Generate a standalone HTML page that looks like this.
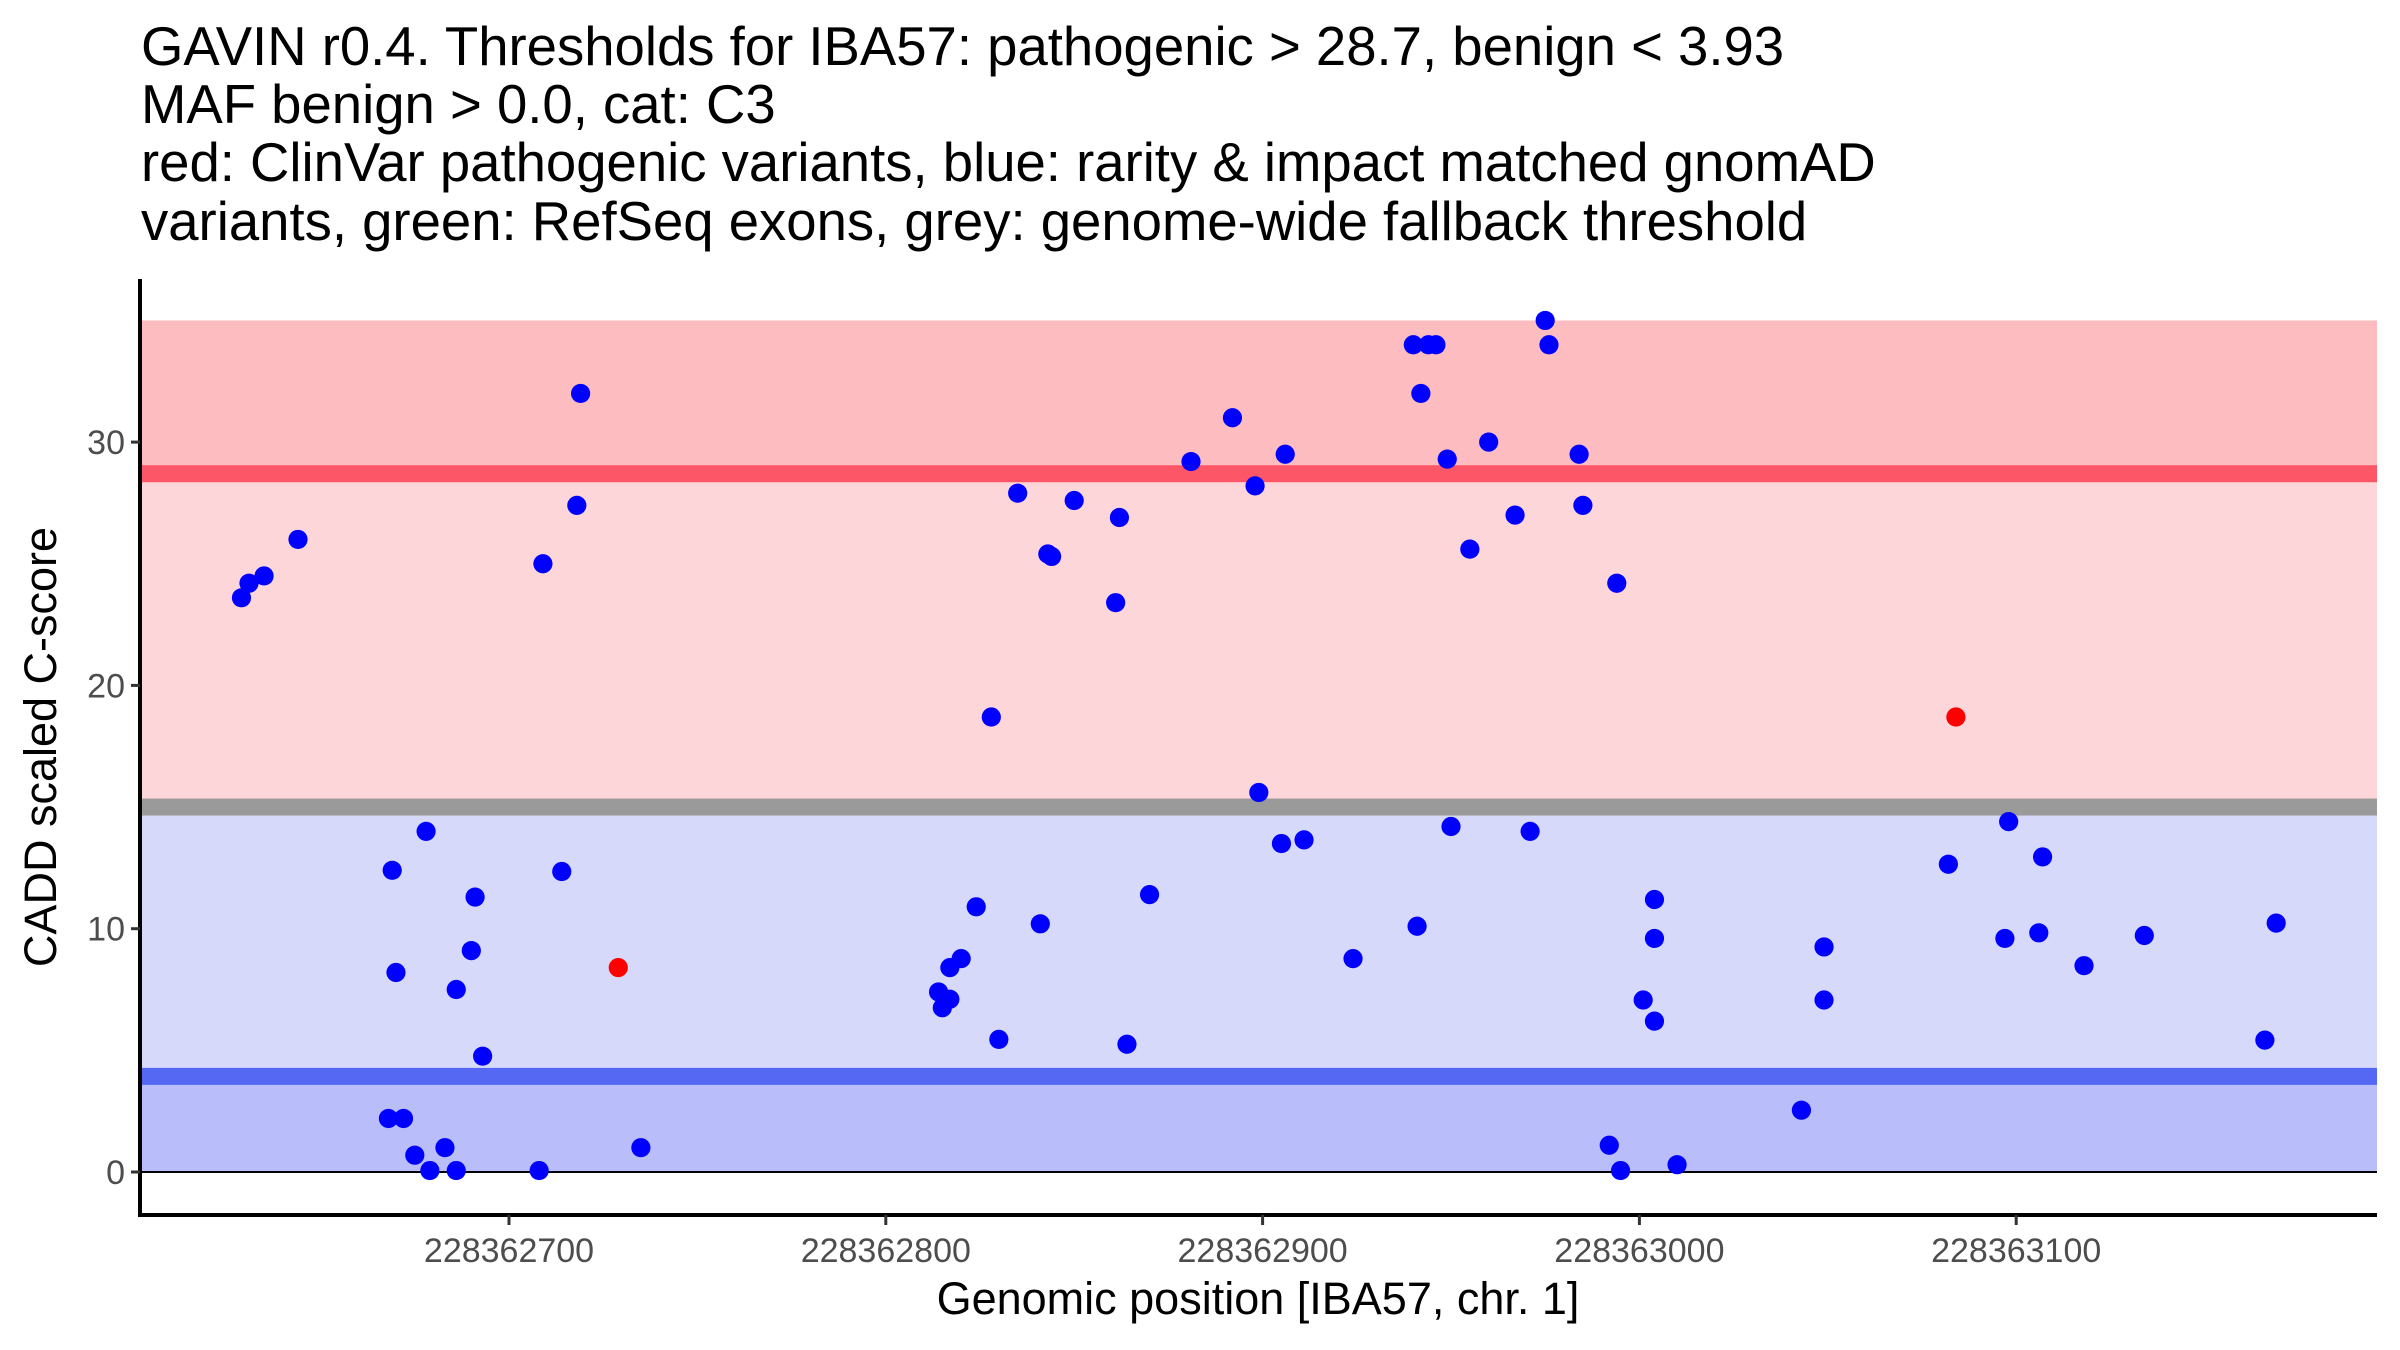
<!DOCTYPE html>
<html><head><meta charset="utf-8"><style>
html,body{margin:0;padding:0;background:#fff;}
svg{display:block;font-family:"Liberation Sans",Arial,sans-serif;}
</style></head><body>
<svg id="chart" width="2400" height="1350" viewBox="0 0 2400 1350">
<g font-size="54.5" fill="#000">
<text x="141" y="65">GAVIN r0.4. Thresholds for IBA57: pathogenic &gt; 28.7, benign &lt; 3.93</text>
<text x="141" y="123">MAF benign &gt; 0.0, cat: C3</text>
<text x="141" y="181">red: ClinVar pathogenic variants, blue: rarity &amp; impact matched gnomAD</text>
<text x="141" y="240">variants, green: RefSeq exons, grey: genome-wide fallback threshold</text>
</g>
<g id="bands"></g>
<g id="points"></g>
<g id="axes"></g>
<text x="56" y="747" transform="rotate(-90 56 747)" text-anchor="middle" font-size="45" fill="#000">CADD scaled C-score</text>
<text x="1258" y="1314" text-anchor="middle" font-size="45" fill="#000">Genomic position [IBA57, chr. 1]</text>
</svg>
<script>
const BASE = 228362000;
const yTicks = [0, 10, 20, 30];
const xTicks = [700, 800, 900, 1000, 1100];
const xTickLabels = ["228362700","228362800","228362900","228363000","228363100"];
const thresholds = {pathogenic: 28.7, fallback: 15, benign: 3.93, top: 35};
const bluePos = [629,631,635,644,719,718,709,678,669,714,691,690,670,686,693,668,672,675,683,679,686,708,735,
 940,944,946,942,975,976,892,881,906,898,949,960,984,985,835,850,862,967,955,843,844,861,828,899,905,911,950,971,
 824,870,841,941,924,820,817,814,817,815,830,864,
 994,1098,1082,1107,1004,1004,1049,1049,1097,1106,1118,1134,1169,1166,1001,1004,1043,992,995,1010];
const blueVal = [23.6,24.2,24.5,26.0,32.0,27.4,25.0,14.0,12.4,12.35,11.3,9.1,8.2,7.5,4.76,2.2,2.2,0.69,1.0,0.06,0.06,0.06,1.0,
 34.0,34.0,34.0,32.0,35.0,34.0,31.0,29.2,29.5,28.2,29.3,30.0,29.5,27.4,27.9,27.6,26.9,27.0,25.6,25.4,25.3,23.4,18.7,15.6,13.5,13.65,14.2,14.0,
 10.9,11.4,10.2,10.1,8.77,8.77,8.4,7.4,7.1,6.75,5.45,5.25,
 24.2,14.4,12.65,12.95,11.2,9.6,9.25,7.07,9.6,9.83,8.48,9.72,10.23,5.42,7.07,6.2,2.54,1.1,0.06,0.3];
const redPos = [729, 1084];
const redVal = [8.4, 18.7];

const NS = "http://www.w3.org/2000/svg";
const L = 140, R = 2377, T = 279, B = 1215;
function x(p){ return 509 + (p - 700) * 3.768; }
function y(v){ return 1172 - v * 24.33; }
function mk(tag, attrs, parent){ const e = document.createElementNS(NS, tag); for (const k in attrs) e.setAttribute(k, attrs[k]); parent.appendChild(e); return e; }

const bands = document.getElementById('bands');
let r;
r = mk('rect', {x:L, y:y(thresholds.top), width:R-L, height:y(thresholds.pathogenic)-y(thresholds.top), fill:'#fdbcc0'}, bands);


r = mk('rect', {x:L, y:y(thresholds.pathogenic), width:R-L, height:y(thresholds.fallback)-y(thresholds.pathogenic), fill:'#fdd6da'}, bands);


r = mk('rect', {x:L, y:y(thresholds.fallback), width:R-L, height:y(thresholds.benign)-y(thresholds.fallback), fill:'#d7d9fb'}, bands);


r = mk('rect', {x:L, y:y(thresholds.benign), width:R-L, height:y(0)-y(thresholds.benign), fill:'#b9befa'}, bands);


r = mk('rect', {x:L, y:y(thresholds.pathogenic)-8.5, width:R-L, height:17, fill:'#fd5666'}, bands);


r = mk('rect', {x:L, y:y(thresholds.fallback)-8.5, width:R-L, height:17, fill:'#9a9a9a'}, bands);


r = mk('rect', {x:L, y:y(thresholds.benign)-8.5, width:R-L, height:17, fill:'#5468f4'}, bands);


r = mk('line', {x1:L, x2:R, y1:y(0), y2:y(0), stroke:'#000', 'stroke-width':2}, bands);



const pts = document.getElementById('points');
for (let i = 0; i < bluePos.length; i++) {
  const c = mk('circle', {cx:x(bluePos[i]), cy:y(blueVal[i]), r:9.6, fill:'#0000ff'}, pts);
  
  
}
for (let i = 0; i < redPos.length; i++) {
  const c = mk('circle', {cx:x(redPos[i]), cy:y(redVal[i]), r:9.6, fill:'#ff0000'}, pts);
  
  
}

const ax = document.getElementById('axes');
let a = mk('line', {x1:L, x2:L, y1:T, y2:B+2, stroke:'#000', 'stroke-width':4}, ax);


a = mk('line', {x1:L-2, x2:R, y1:B, y2:B, stroke:'#000', 'stroke-width':4}, ax);


yTicks.forEach(v => {
  const t = mk('line', {x1:L-9, x2:L, y1:y(v), y2:y(v), stroke:'#333', 'stroke-width':3}, ax);
  
  
  const lb = mk('text', {x:L-15, y:y(v)+12, 'text-anchor':'end', 'font-size':34, fill:'#4d4d4d'}, ax);
  
  
  lb.textContent = String(v);
});
xTicks.forEach((p, i) => {
  const t = mk('line', {x1:x(p), x2:x(p), y1:B, y2:B+10, stroke:'#333', 'stroke-width':3}, ax);
  
  
  const lb = mk('text', {x:x(p), y:1262, 'text-anchor':'middle', 'font-size':34, fill:'#4d4d4d'}, ax);
  
  
  lb.textContent = xTickLabels[i];
});
</script>
</body></html>
